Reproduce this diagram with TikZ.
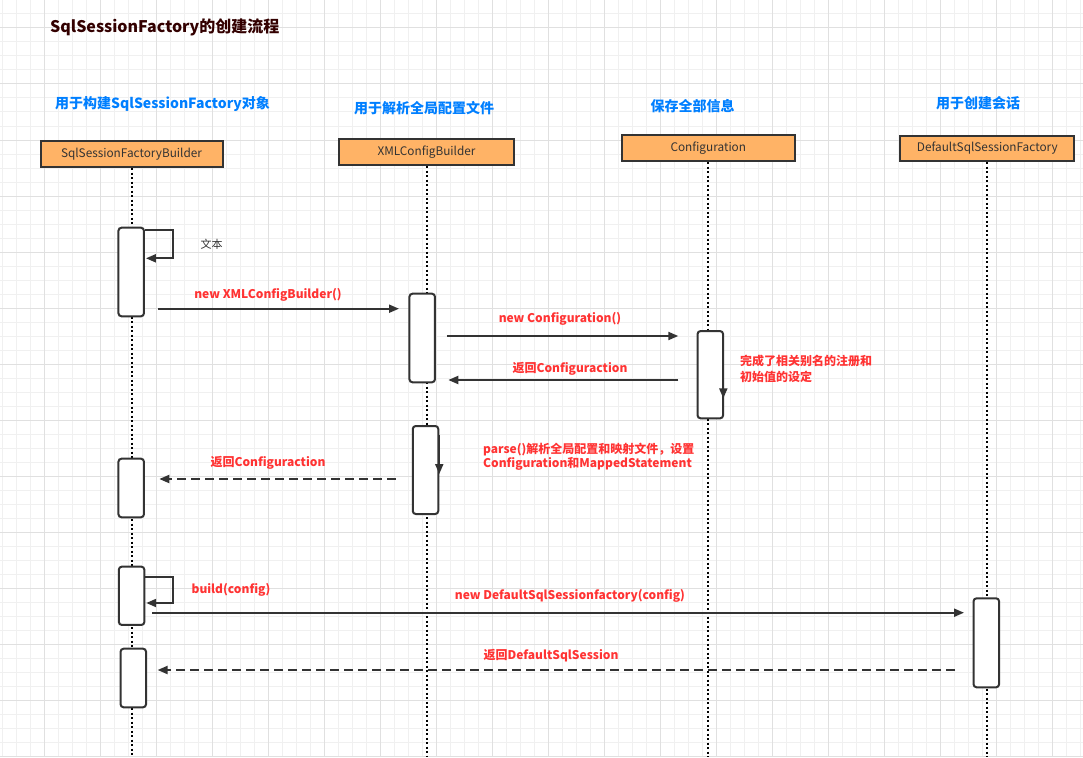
\documentclass[tikz,border=0pt]{standalone}
\usepackage{fontspec}
\setmainfont{Noto Sans CJK SC}
\usepackage{xcolor}
\usetikzlibrary{positioning, arrows.meta, calc}
\definecolor{headfill}{HTML}{FFB366}
\definecolor{linegray}{HTML}{333333}
\definecolor{notered}{HTML}{FF3333}
\definecolor{headblue}{HTML}{007FFF}
\definecolor{titledark}{HTML}{330000}
\definecolor{gridminor}{HTML}{F0F0F0}
\definecolor{gridmajor}{HTML}{E0E0E0}

\begin{document}
\begin{tikzpicture}[x=1pt, y=-1pt,
    head/.style={draw=linegray, line width=2pt, fill=headfill, minimum height=26pt, inner sep=0pt, font=\fontsize{11.8}{13}\selectfont, text=linegray},
    act/.style={draw=linegray, line width=2pt, fill=white, rounded corners=3pt, minimum width=25.5pt, inner sep=0pt},
    lifeline/.style={draw=black, line width=2pt, dash pattern=on 2pt off 2.5pt},
    msg/.style={draw=linegray, line width=2pt, -{Triangle[length=10pt, width=8pt]}},
    reply/.style={msg, dash pattern=on 9pt off 5pt},
    lbl/.style={font=\bfseries\fontsize{12}{14}\selectfont, text=notered, inner sep=0pt},
    hdr/.style={font=\bfseries\fontsize{14}{16}\selectfont, text=headblue, inner sep=0pt},
    minorline/.style={draw=gridminor, line width=1pt},
    majorline/.style={draw=gridmajor, line width=1pt}
]
% Canvas and grid
\fill[white] (0,0) rectangle (1083,757);
\useasboundingbox (0,0) rectangle (1083,757);
\foreach \i in {0,...,77} \draw[minorline] ({2.5+14*\i},0) -- ++(0,757);
\foreach \j in {0,...,54} \draw[minorline] (0,{14*\j}) -- ++(1083,0);
\foreach \i in {0,...,18} \draw[majorline] ({44.5+56*\i},0) -- ++(0,757);
\foreach \j in {0,...,13} \draw[majorline] (0,{28+56*\j}) -- ++(1083,0);
\coordinate (bottom) at (0,757);
% Title and headers
\node[anchor=west, inner sep=0pt, text=titledark, font=\bfseries\fontsize{16}{18}\selectfont] (title) at (50,27) {SqlSessionFactory的创建流程};
\node[hdr] (t1) at (162.5,104.3) {用于构建SqlSessionFactory对象};
\node[hdr] (t2) at (424,108.3)   {用于解析全局配置文件};
\node[hdr] (t3) at (692.5,106)   {保存全部信息};
\node[hdr] (t4) at (978,103.3)   {用于创建会话};
% Participants
\node[head, minimum width=182pt] (h1) at (131.5,154)   {SqlSessionFactoryBuilder};
\node[head, minimum width=175pt] (h2) at (426.5,152)   {XMLConfigBuilder};
\node[head, minimum width=173pt] (h3) at (708.3,148)   {Configuration};
\node[head, minimum width=174pt, minimum height=25pt] (h4) at (987.3,148.5) {DefaultSqlSessionFactory};
% Lifelines
\draw[lifeline] (h1.south) -- (h1.south |- bottom);
\draw[lifeline] (h2.south) -- (h2.south |- bottom);
\draw[lifeline] (h3.south) -- (h3.south |- bottom);
\draw[lifeline] (h4.south) -- (h4.south |- bottom);
% Activations
\node[act, minimum height=88.6pt] (a1) at (131.2,272)   {};
\node[act, minimum height=88.6pt] (a2) at (422.2,338)   {};
\node[act, minimum height=87.3pt] (a3) at (710.3,374.7) {};
\node[act, minimum height=88pt]   (a4) at (425.5,470)   {};
\node[act, minimum height=58.6pt] (a5) at (131.2,488)   {};
\node[act, minimum height=58.3pt] (a6) at (131.6,595.8) {};
\node[act, minimum height=58.6pt] (a7) at (133.3,678)   {};
\node[act, minimum height=89pt]   (a8) at (986.3,642.8) {};
% Message rows
\coordinate (r1) at (0,308.7);
\coordinate (r2) at (0,336);
\coordinate (r3) at (0,380);
\coordinate (r4) at (0,479);
\coordinate (r5) at (0,612.7);
\coordinate (r6) at (0,670);
% Self calls
\draw[msg] ([yshift=-3pt]a1.north east) -- ++(28.3,0) -- ++(0,28.6) -- ++(-27.3,0);
\node[inner sep=0pt, text=linegray, font=\fontsize{11}{13}\selectfont] (selflbl) at (211.5,244) {文本};
\draw[msg] ([yshift=-11.65pt]a6.north east) -- ++(27.65,0) -- ++(0,25.7) -- ++(-26.8,0);
\node[lbl] (buildlbl) at (231,590) {build(config)};
\draw[msg] ([xshift=-0.75pt, yshift=-14pt]a3.north east) -- ++(0,54.3);
\draw[msg] ([yshift=-10pt]a4.north east) -- ++(0,39);
% Messages
\draw[msg, shorten <=13.3pt, shorten >=9.45pt] (a1.east |- r1) -- node[lbl, xshift=-8.7pt, yshift=13.7pt]{new XMLConfigBuilder()} (a2.west |- r1);
\draw[msg, shorten <=11pt, shorten >=18.25pt] (a2.east |- r2) -- node[lbl, xshift=-6.3pt, yshift=17pt]{new Configuration()} (a3.west |- r2);
\draw[msg, shorten <=18.25pt, shorten >=12.35pt] (a3.west |- r3) -- node[lbl, xshift=3.75pt, yshift=11pt]{返回Configuraction} (a2.east |- r3);
\draw[reply, shorten <=16pt, shorten >=14.35pt] (a4.west |- r4) -- node[lbl, xshift=-10.35pt, yshift=16pt]{返回Configuraction} (a5.east |- r4);
\draw[msg, shorten <=6.65pt, shorten >=8.55pt] (a6.east |- r5) -- node[lbl, xshift=11pt, yshift=16.7pt]{new DefaultSqlSessionfactory(config)} (a8.west |- r5);
\draw[reply, shorten <=17.55pt, shorten >=10.55pt] (a8.west |- r6) -- node[lbl, xshift=-8.8pt, yshift=14pt]{返回DefaultSqlSession} (a7.east |- r6);
% Notes
\node[lbl, anchor=west, align=left, font=\bfseries\fontsize{12}{16}\selectfont] (note1) at (740,368.7) {完成了相关别名的注册和\\初始值的设定};
\node[lbl, anchor=west, align=left, font=\bfseries\fontsize{12}{14}\selectfont] (note2) at (482.9,456.3) {parse()解析全局配置和映射文件，设置\\Configuration和MappedStatement};
\end{tikzpicture}
\end{document}
